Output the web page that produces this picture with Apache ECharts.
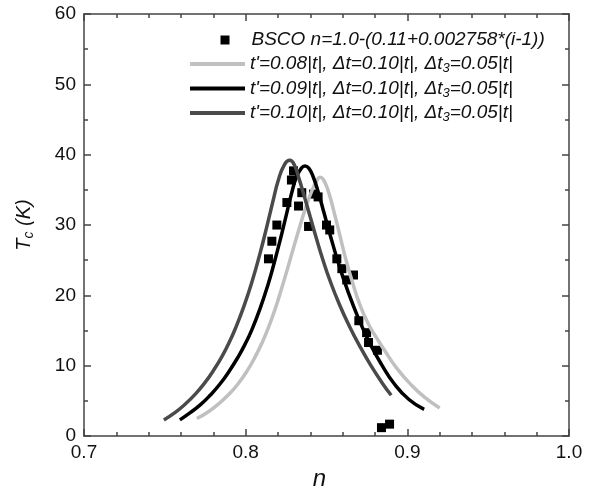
<!DOCTYPE html>
<html>
<head>
<meta charset="utf-8">
<script src="https://cdn.jsdelivr.net/npm/echarts@6/dist/echarts.min.js"></script>
<style>
html,body{margin:0;padding:0;background:#fff;}
#chart{width:598px;height:496px;}
</style>
</head>
<body>
<div id="chart"></div>
<script>
// ---- data ----
const scatterName = "BSCO n=1.0-(0.11+0.002758*(i-1))";
const lineNames = [
  "t'=0.08|t|, Δt=0.10|t|, Δt3=0.05|t|",
  "t'=0.09|t|, Δt=0.10|t|, Δt3=0.05|t|",
  "t'=0.10|t|, Δt=0.10|t|, Δt3=0.05|t|"
];
const xTickLabels = ["0.7", "0.8", "0.9", "1.0"];
const yTickLabels = ["0", "10", "20", "30", "40", "50", "60"];

const bscoN  = [0.8141, 0.8162, 0.8193, 0.8255, 0.8283, 0.8296, 0.8327, 0.8347, 0.8389, 0.8420, 0.8448, 0.8500, 0.8520, 0.8564, 0.8595, 0.8625, 0.8667, 0.8700, 0.8748, 0.8760, 0.8815, 0.8840, 0.8890];
const bscoTc = [25.2,   27.7,   30.0,   33.2,   36.4,   37.7,   32.7,   34.6,   29.8,   34.4,   34.0,   30.0,   29.3,   25.2,   23.8,   22.2,   22.9,   16.4,   14.7,   13.3,   12.2,   1.2,    1.7];

const c008N  = [0.7698, 0.7765, 0.7828, 0.7895, 0.7952, 0.8010, 0.8057, 0.8100, 0.8137, 0.8180, 0.8220, 0.8260, 0.8300, 0.8340, 0.8376, 0.8410, 0.8440, 0.8460, 0.8480, 0.8510, 0.8545, 0.8582, 0.8620, 0.8660, 0.8706, 0.8760, 0.8809, 0.8870, 0.8933, 0.9015, 0.9108, 0.9200];
const c008Tc = [2.5,    3.4,    4.5,    5.9,    7.4,    9.3,    11.2,   13.2,   15.2,   17.9,   20.8,   23.9,   27.1,   30.2,   32.8,   34.9,   36.3,   36.8,   36.5,   34.9,   32.0,   28.6,   25.1,   21.9,   18.7,   15.9,   14.0,   11.8,   9.7,    7.5,    5.5,    4.0];

const c009N  = [0.7593, 0.7655, 0.7717, 0.7780, 0.7841, 0.7900, 0.7952, 0.7995, 0.8038, 0.8090, 0.8139, 0.8175, 0.8215, 0.8253, 0.8285, 0.8315, 0.8345, 0.8366, 0.8390, 0.8417, 0.8450, 0.8485, 0.8520, 0.8575, 0.8632, 0.8700, 0.8770, 0.8840, 0.8920, 0.9010, 0.9104];
const c009Tc = [2.3,    3.3,    4.4,    5.8,    7.4,    9.3,    11.2,   13.0,   15.1,   18.2,   21.6,   24.5,   28.0,   31.6,   34.6,   36.9,   38.1,   38.4,   38.1,   36.9,   34.6,   31.7,   28.8,   24.5,   20.6,   16.6,   13.1,   10.2,   7.4,    5.2,    3.8];

const c010N  = [0.7494, 0.7560, 0.7624, 0.7690, 0.7748, 0.7800, 0.7853, 0.7900, 0.7940, 0.7990, 0.8040, 0.8088, 0.8129, 0.8170, 0.8201, 0.8240, 0.8273, 0.8300, 0.8330, 0.8365, 0.8400, 0.8440, 0.8480, 0.8520, 0.8580, 0.8640, 0.8710, 0.8778, 0.8840, 0.8900];
const c010Tc = [2.3,    3.3,    4.5,    6.0,    7.6,    9.3,    11.3,   13.4,   15.5,   18.5,   22.0,   25.9,   29.6,   33.5,   36.3,   38.6,   39.2,   38.6,   36.6,   33.9,   31.1,   27.9,   24.9,   22.2,   18.7,   15.7,   12.6,   9.9,    7.7,    5.8];

// ---- build ----
const zip = (a, b) => a.map((v, i) => [v, b[i]]);
const lineColors = ['#c0c0c0', '#000000', '#4a4a4a'];
const curves = [zip(c008N, c008Tc), zip(c009N, c009Tc), zip(c010N, c010Tc)];

const FONT = '"Liberation Sans", Arial, sans-serif';
const axisColor = '#444';

function xAxisCfg(pos, showLabel) {
  return {
    type: 'value', position: pos, min: 0.7, max: 1.0, interval: 0.1,
    axisLine: { show: true, onZero: false, lineStyle: { color: axisColor, width: 1.5 } },
    axisTick: { show: true, inside: true, length: 7, lineStyle: { color: axisColor, width: 1.5 } },
    minorTick: { show: true, splitNumber: 5, length: 4, lineStyle: { color: axisColor, width: 1.5 } },
    splitLine: { show: false },
    axisLabel: { show: showLabel, margin: 7, color: '#111', fontSize: 19, fontFamily: FONT,
      formatter: v => xTickLabels[Math.round((v - 0.7) * 10)] },
    name: showLabel ? 'n' : '', nameLocation: 'middle', nameGap: 22,
    nameTextStyle: { fontSize: 24, fontStyle: 'italic', fontFamily: FONT, color: '#111', padding: [0, 14, 0, 0] }
  };
}
function yAxisCfg(pos, showLabel) {
  return {
    type: 'value', position: pos, min: 0, max: 60, interval: 10,
    axisLine: { show: true, onZero: false, lineStyle: { color: axisColor, width: 1.5 } },
    axisTick: { show: true, inside: true, length: 7, lineStyle: { color: axisColor, width: 1.5 } },
    minorTick: { show: true, splitNumber: 2, length: 4, lineStyle: { color: axisColor, width: 1.5 } },
    splitLine: { show: false },
    axisLabel: { show: showLabel, margin: 8, color: '#111', fontSize: 19, fontFamily: FONT,
      formatter: v => yTickLabels[Math.round(v / 10)] },
    name: showLabel ? '{t|T}{s|c}{t| (K)}' : '', nameLocation: 'middle', nameGap: 48,
    nameTextStyle: { fontFamily: FONT, color: '#111',
      rich: {
        t: { fontSize: 20, fontStyle: 'italic', fontFamily: FONT, lineHeight: 24, color: '#111' },
        s: { fontSize: 14, fontStyle: 'italic', fontFamily: FONT, lineHeight: 12, verticalAlign: 'bottom', color: '#111' }
      } }
  };
}

const series = [{
  name: scatterName, type: 'scatter', symbol: 'rect', symbolSize: 9,
  itemStyle: { color: '#000', opacity: 1 }, data: zip(bscoN, bscoTc), z: 2
}];
lineNames.forEach((nm, i) => {
  series.push({
    name: nm, type: 'line', data: curves[i], symbol: 'none', showSymbol: false, smooth: true,
    lineStyle: { color: lineColors[i], width: 3.5 }, itemStyle: { color: lineColors[i] }, z: 3
  });
});

const legendText = { fontSize: 19, fontStyle: 'italic', fontFamily: FONT, color: '#111', lineHeight: 22 };

const option = {
  animation: false,
  backgroundColor: '#fff',
  grid: { left: 84, right: 29, top: 14, bottom: 44 },
  xAxis: [xAxisCfg('bottom', true), xAxisCfg('top', false)],
  yAxis: [yAxisCfg('left', true), yAxisCfg('right', false)],
  legend: [{
    data: [{ name: scatterName, itemStyle: { color: '#000', opacity: 1 } }],
    orient: 'vertical', left: 220.5, top: 29, padding: 0,
    itemWidth: 9, itemHeight: 9, selectedMode: false,
    formatter: name => '{g|}' + name,
    textStyle: Object.assign({}, legendText, { rich: { g: { width: 17, fontSize: 19, lineHeight: 22 } } })
  }, {
    data: lineNames.map((nm, i) => ({ name: nm, icon: 'rect', itemStyle: { color: lineColors[i] } })),
    orient: 'vertical', left: 190, top: 53, padding: 0,
    itemWidth: 55, itemHeight: 4, itemGap: 2.5, selectedMode: false,
    formatter: name => {
      const parts = name.split('Δt3');
      return '{n|' + parts[0] + '}{n|Δt}{s|3}{n|' + parts[1] + '}';
    },
    textStyle: Object.assign({}, legendText, {
      rich: {
        n: { fontSize: 19, fontStyle: 'italic', fontFamily: FONT, lineHeight: 22, color: '#111' },
        s: { fontSize: 13, fontStyle: 'italic', fontFamily: FONT, lineHeight: 10, verticalAlign: 'bottom', color: '#111' }
      }
    })
  }],
  series: series
};

const chart = echarts.init(document.getElementById('chart'), null, { renderer: 'canvas' });
chart.setOption(option);
</script>
</body>
</html>
